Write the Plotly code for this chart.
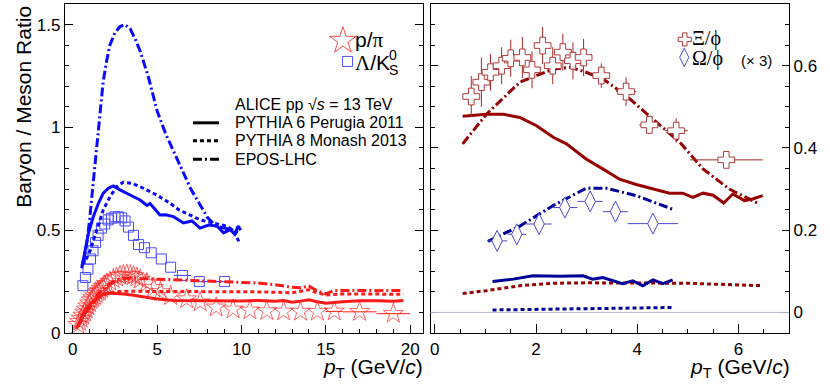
import plotly.graph_objects as go

# ---------------- data: left panel ----------------
pt_ppi = [0.3, 0.4, 0.5, 0.6, 0.7, 0.8, 0.9, 1.0, 1.1, 1.2, 1.3, 1.4, 1.5, 1.6, 1.7, 1.8, 1.9, 2.0,
          2.2, 2.4, 2.6, 2.8, 3.0, 3.2, 3.4, 3.6, 3.8, 4.0, 4.4, 4.8, 5.2, 5.8, 6.75, 7.55, 8.5,
          9.5, 10.5, 11.5, 12.5, 13.5, 14.5, 15.5, 17.0, 19.0]
r_ppi = [0.04, 0.055, 0.07, 0.085, 0.10, 0.115, 0.13, 0.145, 0.16, 0.17, 0.18, 0.19, 0.20, 0.205,
         0.215, 0.225, 0.232, 0.24, 0.25, 0.262, 0.27, 0.278, 0.282, 0.285, 0.283, 0.278, 0.27,
         0.26, 0.243, 0.22, 0.20, 0.18, 0.165, 0.15, 0.125, 0.115, 0.11, 0.107, 0.105, 0.104,
         0.104, 0.105, 0.103, 0.094]
ex_ppi = [0] * 41 + [0.5, 1.0, 1.0]

pt_lk = [0.6, 0.75, 0.9, 1.05, 1.2, 1.35, 1.5, 1.7, 1.9, 2.1, 2.3, 2.5, 2.7, 2.9, 3.1, 3.3, 3.6,
         3.9, 4.25, 4.65, 5.25, 5.8, 6.5, 7.5, 9.0]
r_lk = [0.23, 0.27, 0.31, 0.36, 0.40, 0.44, 0.475, 0.51, 0.53, 0.55, 0.558, 0.565, 0.565, 0.56,
        0.545, 0.515, 0.475, 0.43, 0.415, 0.39, 0.36, 0.32, 0.28, 0.25, 0.25]
ex_lk = [0] * 22 + [0.5, 0.5, 0.5]

# PYTHIA 6 Perugia 2011
pt_p6_ppi = [0.2, 0.4, 0.6, 0.8, 1.0, 1.2, 1.5, 1.8, 2.1, 2.5, 3.0, 3.5, 4.0, 4.5, 5.0, 6.0, 7.0,
             8.0, 9.0, 10.0, 11.0, 12.0, 12.5, 13.0, 13.5, 14.0, 14.5, 15.0, 16.0, 17.0, 18.0,
             19.0, 19.6]
r_p6_ppi = [0.02, 0.05, 0.09, 0.12, 0.14, 0.153, 0.172, 0.188, 0.194, 0.193, 0.19, 0.185, 0.178,
            0.172, 0.165, 0.158, 0.157, 0.157, 0.155, 0.156, 0.158, 0.155, 0.158, 0.15, 0.155,
            0.162, 0.152, 0.145, 0.152, 0.157, 0.157, 0.155, 0.158]
pt_p6_lk = [0.53, 0.73, 0.93, 1.22, 1.52, 1.81, 2.11, 2.41, 2.8, 3.4, 3.99, 4.4, 4.58, 5.17, 5.5,
            5.97, 6.56, 7.06, 7.55, 8.05, 8.55, 8.94, 9.33, 9.6, 9.8, 9.96]
r_p6_lk = [0.315, 0.404, 0.485, 0.566, 0.631, 0.68, 0.704, 0.715, 0.696, 0.671, 0.647, 0.62,
           0.63, 0.574, 0.575, 0.566, 0.535, 0.545, 0.51, 0.525, 0.52, 0.487, 0.503, 0.48, 0.52,
           0.50]

# PYTHIA 8 Monash 2013
pt_p8_ppi = [0.3, 0.6, 1.0, 1.5, 2.0, 2.5, 3.0, 4.0, 5.0, 6.0, 7.0, 8.0, 9.0, 10.0, 11.0, 12.0,
             13.0, 14.0, 14.5, 15.0, 16.0, 17.0, 18.0, 19.0, 19.6]
r_p8_ppi = [0.03, 0.08, 0.13, 0.17, 0.19, 0.20, 0.203, 0.203, 0.20, 0.20, 0.20, 0.20, 0.20, 0.20,
            0.20, 0.198, 0.196, 0.21, 0.195, 0.185, 0.19, 0.19, 0.19, 0.19, 0.188]
pt_p8_lk = [0.55, 0.8, 1.03, 1.42, 1.81, 2.21, 2.61, 3.0, 3.5, 4.19, 4.98, 5.77, 6.27, 7.55, 8.5,
            9.1, 9.5, 9.9]
r_p8_lk = [0.33, 0.36, 0.40, 0.50, 0.60, 0.663, 0.712, 0.733, 0.728, 0.704, 0.671, 0.631, 0.60,
           0.55, 0.53, 0.52, 0.5, 0.437]

# EPOS-LHC
pt_ep_ppi = [0.3, 0.6, 1.0, 1.5, 2.0, 2.5, 3.0, 3.5, 4.0, 5.0, 6.0, 7.0, 8.0, 9.0, 10.0, 11.0,
             12.0, 13.0, 13.5, 14.0, 14.5, 15.0, 15.5, 16.0, 17.0, 18.0, 19.0, 19.6]
r_ep_ppi = [0.03, 0.07, 0.13, 0.19, 0.23, 0.255, 0.265, 0.268, 0.265, 0.262, 0.26, 0.255, 0.252,
            0.25, 0.248, 0.243, 0.235, 0.222, 0.22, 0.228, 0.205, 0.19, 0.207, 0.208, 0.207,
            0.206, 0.206, 0.207]
pt_ep_lk = [0.55, 0.7, 0.85, 1.0, 1.2, 1.4, 1.6, 1.8, 2.0, 2.2, 2.5, 2.8, 3.1, 3.4, 3.7, 4.0, 4.5,
            5.0, 5.5, 6.0, 6.5, 7.0, 7.5, 8.0, 8.5, 9.0, 9.5, 9.8]
r_ep_lk = [0.33, 0.37, 0.45, 0.55, 0.72, 0.90, 1.08, 1.22, 1.32, 1.40, 1.46, 1.49, 1.50, 1.48,
           1.43, 1.37, 1.24, 1.08, 0.97, 0.88, 0.79, 0.70, 0.63, 0.56, 0.52, 0.51, 0.50, 0.49]

# ---------------- data: right panel ----------------
pt_xi = [0.72, 0.92, 1.10, 1.32, 1.50, 1.73, 1.92, 2.13, 2.33, 2.53, 2.73, 2.94, 3.29, 3.78, 4.24,
         4.77, 5.76]
r_xi = [0.525, 0.56, 0.584, 0.60, 0.618, 0.62, 0.59, 0.649, 0.60, 0.633, 0.612, 0.62, 0.576,
        0.537, 0.456, 0.442, 0.371]
ey_xi = [0.05, 0.06, 0.045, 0.045, 0.045, 0.05, 0.045, 0.045, 0.045, 0.045, 0.045, 0.045, 0.03,
         0.035, 0.02, 0.03, 0.02]
ex_xi = [0.1] * 12 + [0.15, 0.2, 0.2, 0.23, 0.72]

pt_om = [1.23, 1.62, 2.06, 2.57, 3.07, 3.57, 4.31]
r_om = [0.174, 0.19, 0.215, 0.255, 0.27, 0.245, 0.216]
ex_om = [0.2, 0.18, 0.25, 0.25, 0.25, 0.25, 0.5]

pt_p6_xi = [0.55, 1.02, 1.35, 1.68, 2.01, 2.34, 2.6, 2.99, 3.32, 3.65, 3.98, 4.31, 4.64, 4.9, 5.1,
            5.3, 5.5, 5.71, 5.89, 6.12, 6.28, 6.48]
r_p6_xi = [0.477, 0.482, 0.482, 0.474, 0.454, 0.426, 0.41, 0.373, 0.349, 0.324, 0.311, 0.30,
           0.29, 0.29, 0.28, 0.29, 0.285, 0.266, 0.288, 0.272, 0.276, 0.284]
pt_p8_xi = [0.55, 1.02, 1.68, 2.34, 2.99, 4.31, 4.97, 6.48]
r_p8_xi = [0.046, 0.053, 0.065, 0.071, 0.072, 0.071, 0.071, 0.065]
pt_ep_xi = [0.55, 1.02, 1.68, 2.34, 2.67, 2.99, 3.32, 3.78, 4.31, 4.84, 5.3, 5.82, 6.41]
r_ep_xi = [0.41, 0.482, 0.56, 0.592, 0.596, 0.584, 0.568, 0.527, 0.47, 0.414, 0.349, 0.30, 0.264]

pt_p6_om = [1.14, 1.55, 1.94, 2.47, 2.93, 3.12, 3.32, 3.71, 3.91, 4.11, 4.31, 4.51, 4.70]
r_p6_om = [0.075, 0.081, 0.089, 0.088, 0.089, 0.081, 0.085, 0.07, 0.077, 0.065, 0.079, 0.07,
           0.079]
pt_p8_om = [1.14, 2.99, 4.70]
r_p8_om = [0.006, 0.010, 0.012]
pt_ep_om = [1.05, 1.68, 2.34, 2.99, 3.39, 3.98, 4.70]
r_ep_om = [0.173, 0.21, 0.26, 0.302, 0.302, 0.284, 0.251]

# ---------------- styling ----------------
FONT = "Liberation Sans, Arial, sans-serif"
GREEK = "font-family:Liberation Serif"
RED = "#ff1a1a"
BLUE = "#0a0aff"
DRED = "#960000"
DBLUE = "#000099"
DOT = "4px,3px"
DASHDOT = "9px,3px,2px,3px"

# pixel geometry of the frames
L, R, T, B = 65, 789.3, 4, 333.5
W, H = R - L, B - T

def fx(px):
    return (px - L) / W

def fy(py):
    return (B - py) / H

fig = go.Figure()

def line(x, y, color, dash, xa="x", ya="y", w=3):
    fig.add_trace(go.Scatter(x=x, y=y, mode="lines", xaxis=xa, yaxis=ya, showlegend=False,
                             line=dict(color=color, width=w, dash=dash, shape="linear")))

# left panel data
fig.add_trace(go.Scatter(x=pt_ppi, y=r_ppi, mode="markers", showlegend=False,
                         error_x=dict(type="data", array=ex_ppi, color=RED, width=0, thickness=1),
                         marker=dict(symbol="star-open", size=15, color="rgba(255,40,40,0.7)",
                                     line=dict(width=1))))
fig.add_trace(go.Scatter(x=pt_lk, y=r_lk, mode="markers", showlegend=False,
                         error_x=dict(type="data", array=ex_lk, color="#3a3aff", width=0, thickness=1),
                         marker=dict(symbol="square-open", size=10, color="#4a4aff",
                                     line=dict(width=1))))
line(pt_p6_ppi, r_p6_ppi, RED, "solid")
line(pt_p8_ppi, r_p8_ppi, RED, DOT)
line(pt_ep_ppi, r_ep_ppi, RED, DASHDOT)
line(pt_p6_lk, r_p6_lk, BLUE, "solid")
line(pt_p8_lk, r_p8_lk, BLUE, DOT)
line(pt_ep_lk, r_ep_lk, BLUE, DASHDOT)

# right panel models
line(pt_p6_xi, r_p6_xi, DRED, "solid", "x2", "y2")
line(pt_p8_xi, r_p8_xi, DRED, DOT, "x2", "y2")
line(pt_ep_xi, r_ep_xi, DRED, DASHDOT, "x2", "y2")
line(pt_p6_om, r_p6_om, DBLUE, "solid", "x2", "y2")
line(pt_p8_om, r_p8_om, DBLUE, DOT, "x2", "y2")
line(pt_ep_om, r_ep_om, DBLUE, DASHDOT, "x2", "y2")

# right panel data
fig.add_trace(go.Scatter(x=pt_xi, y=r_xi, mode="markers", xaxis="x2", yaxis="y2", showlegend=False,
                         error_x=dict(type="data", array=ex_xi, color="#a52a2a", width=0, thickness=1),
                         error_y=dict(type="data", array=ey_xi, color="#a52a2a", width=0, thickness=1),
                         marker=dict(symbol="cross", size=14, color="white",
                                     line=dict(width=1, color="#b03a3a"))))
fig.add_trace(go.Scatter(x=pt_om, y=r_om, mode="markers", xaxis="x2", yaxis="y2", showlegend=False,
                         error_x=dict(type="data", array=ex_om, color="#4a4ad0", width=0, thickness=1),
                         marker=dict(symbol="diamond-tall", size=15, color="white",
                                     line=dict(width=1, color="#4a4ad0"))))

# overlay (pixel) axes for legend keys
fig.add_trace(go.Scatter(x=[343], y=[40.7], xaxis="x3", yaxis="y3", mode="markers",
                         showlegend=False, cliponaxis=False,
                         marker=dict(symbol="star-open", size=20, color="rgba(255,40,40,0.85)")))
fig.add_trace(go.Scatter(x=[347.7], y=[61.5], xaxis="x3", yaxis="y3", mode="markers",
                         showlegend=False, cliponaxis=False,
                         marker=dict(symbol="square-open", size=10, color="#4a4aff")))
fig.add_trace(go.Scatter(x=[685], y=[39.5], xaxis="x3", yaxis="y3", mode="markers",
                         showlegend=False, cliponaxis=False,
                         marker=dict(symbol="cross", size=11, color="white",
                                     line=dict(width=1, color="#b03a3a"))))
fig.add_trace(go.Scatter(x=[684.5], y=[57.5], xaxis="x3", yaxis="y3", mode="markers",
                         showlegend=False, cliponaxis=False,
                         marker=dict(symbol="diamond-tall", size=13, color="white",
                                     line=dict(width=1, color="#4a4ad0"))))
for ky, dsh in [(123, "solid"), (141, DOT), (159.5, DASHDOT)]:
    fig.add_trace(go.Scatter(x=[193, 219], y=[ky, ky], xaxis="x3", yaxis="y3", mode="lines",
                             showlegend=False, cliponaxis=False,
                             line=dict(color="black", width=3, dash=dsh)))

# y = 0 grey line in right panel
fig.add_shape(type="line", xref="x2 domain", yref="y2", x0=0, x1=1, y0=0, y1=0,
              line=dict(color="#b8b8c8", width=1))

ann = []

def text(px, py, s, size, xanchor="left"):
    ann.append(dict(x=px, y=py, xref="x3", yref="y3", text=s, showarrow=False,
                    xanchor=xanchor, yanchor="middle", borderpad=0,
                    font=dict(size=size, color="black", family=FONT)))

text(354, 40, f'p/<span style="{GREEK}">π</span>', 21)
text(354, 63, f'<span style="{GREEK}">Λ</span>/K', 21)
text(388, 55, "0", 14)
text(388, 70, "S", 14)
text(234, 104.5, "ALICE pp √<i>s</i> = 13 TeV", 16)
text(234, 123, "PYTHIA 6 Perugia 2011", 16)
text(234, 141, "PYTHIA 8 Monash 2013", 16)
text(234, 159.5, "EPOS-LHC", 16)
text(691, 38.5, f'<span style="{GREEK}">Ξ/ϕ</span>', 20)
text(691, 58.5, f'<span style="{GREEK}">Ω/ϕ</span>', 20)
text(740, 60.5, "(× 3)", 15)

# axis titles
ann.append(dict(x=fx(424), y=fy(369), xref="paper", yref="paper", showarrow=False,
                xanchor="right", yanchor="middle", borderpad=0,
                text="<i>p</i><sub>T</sub> (GeV/<i>c</i>)",
                font=dict(size=21, family=FONT, color="black")))
ann.append(dict(x=fx(791), y=fy(369), xref="paper", yref="paper", showarrow=False,
                xanchor="right", yanchor="middle", borderpad=0,
                text="<i>p</i><sub>T</sub> (GeV/<i>c</i>)",
                font=dict(size=21, family=FONT, color="black")))
ann.append(dict(x=fx(24), y=fy(107), xref="paper", yref="paper", showarrow=False,
                xanchor="center", yanchor="middle", textangle=-90,
                text="Baryon / Meson Ratio", font=dict(size=21, family=FONT, color="black")))

axcommon = dict(showgrid=False, zeroline=False, showline=True, linecolor="black", linewidth=1.3,
                ticks="inside", tickcolor="black", tickwidth=1,
                tickfont=dict(size=17, family=FONT, color="black"))

xl = (423.3 - L) / W
xr = (430.7 - L) / W
fig.update_layout(
    width=830, height=388,
    margin=dict(l=L, r=830 - R, t=T, b=388 - B),
    paper_bgcolor="white", plot_bgcolor="rgba(0,0,0,0)",
    font=dict(family=FONT, color="black"),
    showlegend=False,
    xaxis=dict(domain=[0, xl], range=[-0.46, 20.77], tick0=0, dtick=5, ticklen=8, mirror=True,
               minor=dict(dtick=1, tick0=0, ticks="inside", ticklen=4, tickcolor="black", showgrid=False),
               anchor="y", **axcommon),
    yaxis=dict(domain=[0, 1], range=[0, 1.6], tick0=0, dtick=0.5, ticklen=8, mirror="allticks",
               minor=dict(dtick=0.1, tick0=0, ticks="inside", ticklen=4, tickcolor="black", showgrid=False),
               anchor="x", **axcommon),
    xaxis2=dict(domain=[xr, 1], range=[-0.085, 7.0], tick0=0, dtick=2, ticklen=9, mirror=True,
                minor=dict(dtick=0.5, tick0=0, ticks="inside", ticklen=4, tickcolor="black", showgrid=False),
                anchor="y2", **axcommon),
    yaxis2=dict(domain=[0, 1], range=[-0.05, 0.75], tickvals=[0, 0.2, 0.4, 0.6],
                ticktext=["0", "0.2", "0.4", "0.6"], ticklen=7, side="right", mirror="allticks",
                minor=dict(dtick=0.05, tick0=0, ticks="inside", ticklen=4, tickcolor="black", showgrid=False),
                anchor="x2", **axcommon),
    xaxis3=dict(domain=[0, 1], range=[L, R], visible=False, anchor="y3", fixedrange=True),
    yaxis3=dict(domain=[0, 1], range=[B, T], visible=False, anchor="x3", fixedrange=True),
    annotations=ann,
)

fig.write_html("out.html", config={"displayModeBar": False},
               post_script="document.body.style.margin='0';document.body.style.overflow='hidden';")
